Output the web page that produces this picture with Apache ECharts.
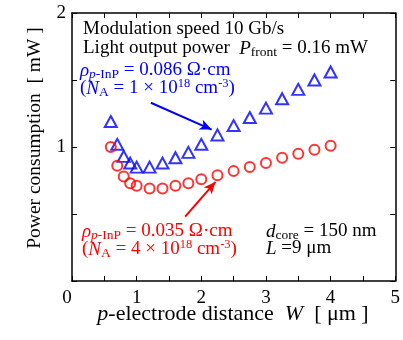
<!DOCTYPE html>
<html>
<head>
<meta charset="utf-8">
<script src="https://cdn.jsdelivr.net/npm/echarts@6/dist/echarts.min.js"></script>
<style>
  html, body { margin: 0; padding: 0; background: #fff; }
  #chart { width: 403px; height: 340px; }
</style>
</head>
<body>
<div id="chart"></div>
<script>
// p-electrode distance W [um]
var wValues = [0.6, 0.7, 0.8, 0.9, 1.0, 1.2, 1.4, 1.6, 1.8, 2.0, 2.25, 2.5, 2.75, 3.0, 3.25, 3.5, 3.75, 4.0]
// power consumption [mW], rho = 0.086 ohm cm (blue triangles)
var powerHighRho = [1.19, 1.02, 0.93, 0.88, 0.85, 0.85, 0.88, 0.92, 0.96, 1.02, 1.09, 1.16, 1.22, 1.29, 1.36, 1.43, 1.50, 1.56]
// power consumption [mW], rho = 0.035 ohm cm (red circles)
var powerLowRho = [1.00, 0.86, 0.78, 0.73, 0.71, 0.69, 0.69, 0.71, 0.73, 0.76, 0.79, 0.82, 0.85, 0.88, 0.92, 0.95, 0.98, 1.01]
// arrows pointing from labels to the curves
var blueArrow = [[1.22, 1.33], [2.16, 1.13]]
var redArrow = [[1.75, 0.48], [2.22, 0.74]]

var font = 'Liberation Serif'
var blue = '#0000ff'
var red = '#ff0000'

function pairs (xs, ys) {
  var out = []
  for (var i = 0; i < xs.length; i++) {
    out.push([xs[i], ys[i]])
  }
  return out
}

function richStyles (color, size) {
  return {
    it: { fontStyle: 'italic', fontSize: size, fontFamily: font, fill: color },
    sub: { fontSize: 13.5, fontFamily: font, fill: color, padding: [8, 0, 0, 0] },
    subit: { fontSize: 13.5, fontStyle: 'italic', fontFamily: font, fill: color, padding: [8, 0, 0, 0] },
    sup: { fontSize: 12.5, fontFamily: font, fill: color, padding: [0, 0, 10, 0] }
  }
}

function textEl (x, y, text, color, size, align) {
  size = size || 19
  return {
    type: 'text',
    x: x,
    y: y,
    silent: true,
    style: {
      text: text,
      fontSize: size,
      fontFamily: font,
      fill: color,
      align: align || 'left',
      verticalAlign: 'middle',
      rich: richStyles(color, size)
    }
  }
}

var tickCommon = {
  axisLine: { show: true, onZero: false, lineStyle: { color: '#000', width: 1.5 } },
  axisTick: { show: true, inside: true, length: 5, lineStyle: { color: '#000', width: 1 } },
  minorTick: { show: true, splitNumber: 2, length: 5, lineStyle: { color: '#000', width: 1 } },
  splitLine: { show: false },
  minorSplitLine: { show: false }
}

function axis (extra) {
  return Object.assign({}, JSON.parse(JSON.stringify(tickCommon)), extra)
}

var option = {
  backgroundColor: '#fff',
  animation: false,
  grid: { left: 72, right: 5, top: 13, bottom: 59 },
  xAxis: [
    axis({
      type: 'value', min: 0, max: 5, interval: 1, position: 'bottom',
      axisLabel: {
        fontSize: 19, fontFamily: font, color: '#000', margin: 8,
        formatter: function (v) { return v === 0 ? '{z|0}' : String(v) },
        rich: { z: { fontSize: 19, fontFamily: font, color: '#000', padding: [0, 10, 0, 0] } }
      }
    }),
    axis({ type: 'value', min: 0, max: 5, interval: 1, position: 'top', axisLabel: { show: false } })
  ],
  yAxis: [
    axis({
      type: 'value', min: 0, max: 2, interval: 1, position: 'left',
      axisLabel: { fontSize: 19, fontFamily: font, color: '#000', margin: 6, showMinLabel: false }
    }),
    axis({ type: 'value', min: 0, max: 2, interval: 1, position: 'right', axisLabel: { show: false } })
  ],
  graphic: [
    {
      type: 'text',
      x: 35,
      y: 138,
      rotation: Math.PI / 2,
      silent: true,
      style: {
        text: 'Power consumption  [ mW ]',
        fontSize: 19.5,
        fontFamily: font,
        fill: '#000',
        align: 'center',
        verticalAlign: 'middle'
      }
    },
    textEl(233, 314, '{it|p}-electrode distance  {it|W}  [ μm ]', '#000', 22, 'center'),
    textEl(83, 29.5, 'Modulation speed 10 Gb/s', '#000'),
    textEl(83, 48.5, 'Light output power  {it|P}{sub|front} = 0.16 mW', '#000'),
    textEl(80, 70.5, '{it|ρ}{subit|p}{sub|-InP} = 0.086 Ω·cm', blue),
    textEl(80, 88.5, '({it|N}{sub|A} = 1 × 10{sup|18} cm{sup|-3})', blue),
    textEl(82, 231.5, '{it|ρ}{subit|p}{sub|-InP} = 0.035 Ω·cm', red),
    textEl(82, 249.5, '({it|N}{sub|A} = 4 × 10{sup|18} cm{sup|-3})', red),
    textEl(266, 231.5, '{it|d}{sub|core} = 150 nm', '#000'),
    textEl(266, 248.5, '{it|L} =9 μm', '#000')
  ],
  series: [
    {
      name: 'rho 0.086',
      type: 'scatter',
      data: pairs(wValues, powerHighRho),
      symbol: 'triangle',
      symbolSize: [12, 11],
      itemStyle: { color: 'rgba(0,0,0,0)', borderColor: blue, borderWidth: 2 },
      markLine: {
        silent: true,
        symbol: ['none', 'arrow'],
        symbolSize: [8, 12],
        label: { show: false },
        lineStyle: { color: blue, width: 2, type: 'solid' },
        data: [[{ coord: blueArrow[0] }, { coord: blueArrow[1] }]]
      }
    },
    {
      name: 'rho 0.035',
      type: 'scatter',
      data: pairs(wValues, powerLowRho),
      symbol: 'circle',
      symbolSize: 10,
      itemStyle: { color: 'rgba(0,0,0,0)', borderColor: red, borderWidth: 2 },
      markLine: {
        silent: true,
        symbol: ['none', 'arrow'],
        symbolSize: [8, 12],
        label: { show: false },
        lineStyle: { color: red, width: 2, type: 'solid' },
        data: [[{ coord: redArrow[0] }, { coord: redArrow[1] }]]
      }
    }
  ]
}

var myChart = echarts.init(document.getElementById('chart'))
myChart.setOption(option)
</script>
</body>
</html>
